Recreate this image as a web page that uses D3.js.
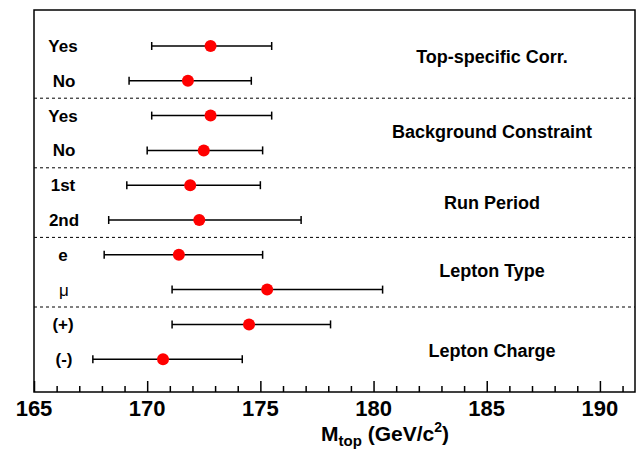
<!DOCTYPE html>
<html><head><meta charset="utf-8">
<script src="https://cdn.jsdelivr.net/npm/d3@7"></script>
<style>body{margin:0;background:#fff}</style></head>
<body><svg id="c" width="641" height="449"></svg>
<script>
const rowLabels=["Yes","No","Yes","No","1st","2nd","e","μ","(+)","(-)"];
const centers=[172.8,171.8,172.8,172.5,171.9,172.3,171.4,175.3,174.5,170.7];
const lows=[170.2,169.2,170.2,170.0,169.1,168.3,168.1,171.1,171.1,167.6];
const highs=[175.5,174.6,175.5,175.1,175.0,176.8,175.1,180.4,178.1,174.2];
const groups=["Top-specific Corr.","Background Constraint","Run Period","Lepton Type","Lepton Charge"];
const groupY=[57,132,203,271,351];
const ticks=[165,170,175,180,185,190];

const svg=d3.select("#c");
const L=34,R=635,T=10,B=392;
const F="Liberation Sans,Arial";
const x=d3.scaleLinear().domain([165,191.55]).range([L,R]);
const rowY=i=>46+i*34.8;
svg.append("rect").attr("x",L).attr("y",T).attr("width",R-L).attr("height",B-T).attr("fill","none").attr("stroke","#000").attr("stroke-width",1.5);
for(let g=1;g<5;g++){const yy=(rowY(2*g-1)+rowY(2*g))/2;
 svg.append("line").attr("x1",L).attr("x2",R).attr("y1",yy).attr("y2",yy).attr("stroke","#000").attr("stroke-dasharray","3,3");}
const ax=svg.append("g").attr("transform",`translate(0,${B})`)
 .call(d3.axisTop(x).tickValues(d3.range(165,191.5,1)).tickSize(0).tickFormat(""));
ax.select(".domain").remove();
ax.selectAll(".tick line").remove();
ax.selectAll(".tick").append("line").attr("y2",d=>d%5===0?-11:-6).attr("stroke","#000").attr("stroke-width",1.5);
ticks.forEach(t=>svg.append("text").attr("x",x(t)).attr("y",B+24).attr("text-anchor","middle")
 .attr("font-family",F).attr("font-weight","bold").attr("font-size",22).text(t));
const xl=svg.append("text").attr("x",385).attr("y",441).attr("text-anchor","middle").attr("font-family",F).attr("font-weight","bold").attr("font-size",21);
xl.append("tspan").text("M");xl.append("tspan").attr("font-size",15).attr("dy",5).text("top");
xl.append("tspan").attr("dy",-5).text(" (GeV/c");xl.append("tspan").attr("font-size",14).attr("dy",-9).text("2");
xl.append("tspan").attr("dy",9).text(")");
rowLabels.forEach((l,i)=>{const yy=rowY(i);
 svg.append("text").attr("x",i%2===0?63:64).attr("y",yy+6).attr("text-anchor","middle").attr("font-family",F).attr("font-weight",l==="μ"?"normal":"bold").attr("font-size",17).text(l);
 svg.append("line").attr("x1",x(lows[i])).attr("x2",x(highs[i])).attr("y1",yy).attr("y2",yy).attr("stroke","#000").attr("stroke-width",1.5);
 [lows[i],highs[i]].forEach(v=>svg.append("line").attr("x1",x(v)).attr("x2",x(v)).attr("y1",yy-4).attr("y2",yy+4).attr("stroke","#000").attr("stroke-width",1.5));
 svg.append("circle").attr("cx",x(centers[i])).attr("cy",yy).attr("r",6).attr("fill","#f00");
});
groups.forEach((g,k)=>svg.append("text").attr("x",492).attr("y",groupY[k]+6).attr("text-anchor","middle").attr("font-family",F).attr("font-weight","bold").attr("font-size",18).text(g));
</script></body></html>
